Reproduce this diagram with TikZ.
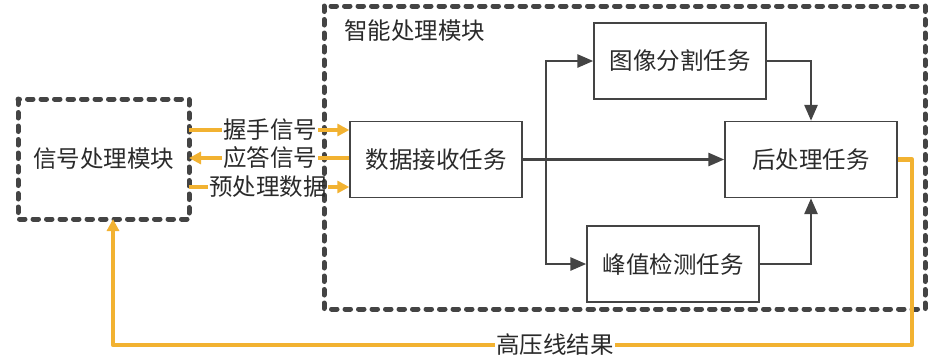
\documentclass[tikz,border=0pt]{standalone}
\usepackage{fontspec}
\setmainfont{Noto Sans CJK SC}
\usetikzlibrary{arrows.meta}
\definecolor{dg}{HTML}{444444}
\definecolor{og}{HTML}{F2B231}
\definecolor{tx}{HTML}{2A2A2A}
\tikzset{
  modbox/.style={draw=dg, line width=5pt, dash pattern=on 5.5pt off 8pt, line cap=round},
  taskbox/.style={draw=dg, line width=1.4pt, minimum width=172pt, minimum height=76pt, inner sep=0pt, font=\fontsize{23.5}{25}\selectfont, text=tx},
  lbl/.style={inner sep=1pt, font=\fontsize{23.5}{25}\selectfont, text=tx},
  dar/.style={draw=dg, line width=2.8pt, -{Triangle[length=16pt,width=13pt]}},
  oar/.style={draw=og, line width=4.5pt, -{Triangle[length=12pt,width=12pt]}},
  oln/.style={draw=og, line width=4.5pt},
}
\begin{document}
\begin{tikzpicture}[x=1pt,y=-1pt]
\useasboundingbox (0,0) rectangle (941,360);
% module boxes
\draw[modbox] (18,99) rectangle (189,219);
\node[lbl] (lb) at (103.5,159) {信号处理模块};
\coordinate (lbs) at (113,219);
\coordinate (lbe) at (189,159);
\draw[modbox] (324,6) rectangle (925,309);
\node[lbl, anchor=west] (title) at (343,31) {智能处理模块};
% task boxes
\node[taskbox] (rx) at (436,159.5) {数据接收任务};
\node[taskbox] (seg) at (680,61) {图像分割任务};
\node[taskbox] (post) at (811,159.5) {后处理任务};
\node[taskbox] (peak) at (673,264) {峰值检测任务};
% dark arrows
\draw[dar] (rx.east) -- (post.west);
\coordinate (br) at (546,159.5);
\draw[dar] (br) |- (seg.west);
\draw[dar] (br) |- (peak.west);
\draw[dar] (seg.east) -| (post.north);
\draw[dar] (peak.east) -| (post.south);
% orange signals
\node[lbl] (hs) at (270,130) {握手信号};
\node[lbl] (ack) at (270,158) {应答信号};
\node[lbl] (pre) at (268,187) {预处理数据};
\draw[oln] (lbe|-hs.west) -- (hs.west);
\draw[oar] (hs.east) -- (rx.west|-hs.east);
\draw[oln] (rx.west|-ack.east) -- (ack.east);
\draw[oar] (ack.west) -- (lbe|-ack.west);
\draw[oln] (lbe|-pre.west) -- (pre.west);
\draw[oar] (pre.east) -- (rx.west|-pre.east);
% feedback
\node[lbl] (res) at (555,345) {高压线结果};
\draw[oln, line join=round] (post.east) -- (912,159.5) |- (res.east);
\draw[oar, line join=round] (res.west) -| (lbs);
\end{tikzpicture}
\end{document}
